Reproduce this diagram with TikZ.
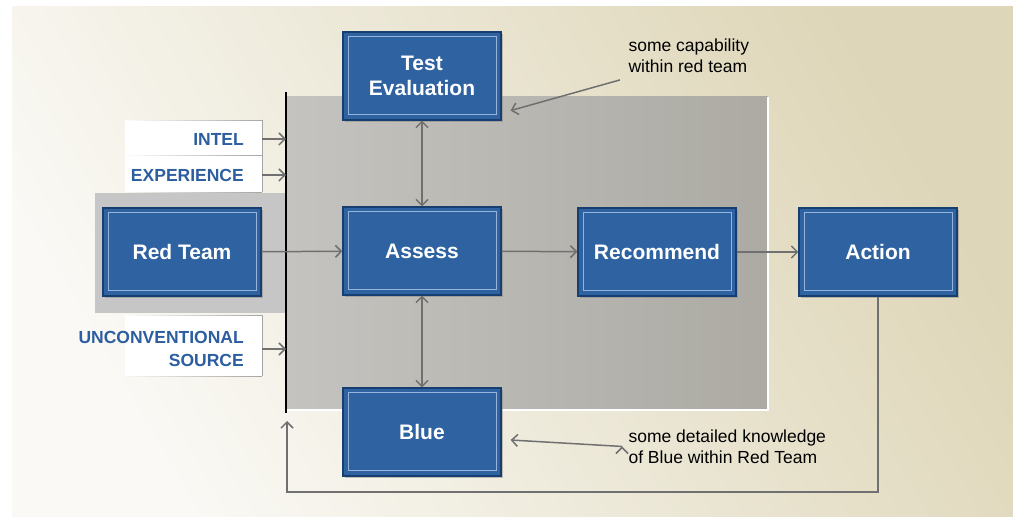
\documentclass[tikz,border=0pt]{standalone}
\usepackage{fontspec}
\setmainfont{Liberation Sans}
\usetikzlibrary{arrows.meta,shadows,fadings}
\definecolor{boxblue}{RGB}{46,98,160}
\definecolor{boxedge}{RGB}{22,62,112}
\definecolor{boxline}{RGB}{150,180,220}
\definecolor{labelblue}{RGB}{44,94,160}
\definecolor{arrowgray}{RGB}{112,112,112}
\definecolor{paper}{RGB}{222,214,184}
\definecolor{paperlight}{RGB}{250,249,245}
\definecolor{paneldark}{RGB}{172,170,163}
\definecolor{panellight}{RGB}{196,195,191}
\definecolor{tabgray}{RGB}{165,165,165}

\begin{document}
\begin{tikzpicture}[x=1pt,y=-1pt,
  main box/.style={rectangle,draw=boxedge,line width=1.2pt,fill=boxblue,
    minimum width=158pt,minimum height=88pt,text=white,align=center,
    font=\fontsize{21}{25}\selectfont\bfseries,
    drop shadow={shadow xshift=2pt,shadow yshift=-2pt,opacity=.45},
    path picture={\draw[boxline,line width=1pt]
      ([shift={(5pt,-5pt)}]path picture bounding box.north west) rectangle
      ([shift={(-5pt,5pt)}]path picture bounding box.south east);}},
  tag/.style={text=labelblue,font=\fontsize{17.5}{23}\selectfont\bfseries,
    align=right,anchor=east,inner xsep=18pt},
  note/.style={font=\fontsize{17.5}{21}\selectfont,align=left,anchor=north west},
  arr/.style={-{Straight Barb[length=6pt,width=12pt]},draw=arrowgray,line width=1.5pt},
  both/.style={{Straight Barb[length=6pt,width=12pt]}-{Straight Barb[length=6pt,width=12pt]},
    draw=arrowgray,line width=1.5pt}]

  \useasboundingbox (0,0) rectangle (1013,518);
  \fill[white] (0,0) rectangle (1013,518);
  \shade[left color=paperlight,right color=paper,shading angle=120] (12,7) rectangle (1013,517);

  \fill[left color=panellight,right color=paneldark] (287,97) rectangle (768,410);
  \draw[white,line width=1.5pt] (768,97) -- (768,410) -- (287,410);
  \fill[gray!45] (95,193) rectangle (285,313);

  \fill[white] (125,120) rectangle (262,192);
  \fill[white] (125,315) rectangle (262,376);
  \draw[tabgray,path fading=west] (125,120) -- (262,120) (125,155) -- (262,155) (125,192) -- (262,192);
  \draw[tabgray,path fading=west] (125,315) -- (262,315) (125,376) -- (262,376);
  \draw[tabgray] (262,120) -- (262,192) (262,315) -- (262,376);

  \coordinate (bartop) at (286,92);
  \coordinate (barbot) at (286,413);
  \coordinate (loopcorner) at (287,492);
  \coordinate (loopend) at (287,421);
  \draw[line width=2pt] (bartop) -- (barbot);

  \node[main box] (redteam) at (182,252) {Red Team};
  \node[main box] (testeval) at (422,76) {Test\\Evaluation};
  \node[main box] (assess) at (422,251) {Assess};
  \node[main box] (blue) at (422,432) {Blue};
  \node[main box] (recommend) at (657,252) {Recommend};
  \node[main box] (action) at (878,252) {Action};

  \node[tag] (intel) at (262,139) {INTEL};
  \node[tag] (experience) at (262,175) {EXPERIENCE};
  \node[tag] (unconv) at (262,349) {UNCONVENTIONAL\\SOURCE};

  \node[note] (capnote) at (625,35) {some capability\\within red team};
  \node[note] (bluenote) at (625,426) {some detailed knowledge\\of Blue within Red Team};

  \path
  (intel.east) [arr] edge (intel.east -| bartop)
  (experience.east) [arr] edge (experience.east -| bartop)
  (unconv.east) [arr] edge (unconv.east -| bartop)
  (redteam) [arr] edge (assess)
  (assess) [arr] edge (recommend)
  (recommend) [arr] edge (action)
  (assess) [both] edge (testeval)
  (assess) [both] edge (blue)
  ([shift={(-5pt,-4pt)}]capnote.south west) [arr] edge ([shift={(9pt,10pt)}]testeval.south east)
  ([xshift=-3pt]bluenote.west) [arr] edge ([shift={(9pt,-8pt)}]blue.east);

  \draw[arr] (action.south) |- (loopcorner) -- (loopend);
\end{tikzpicture}
\end{document}
